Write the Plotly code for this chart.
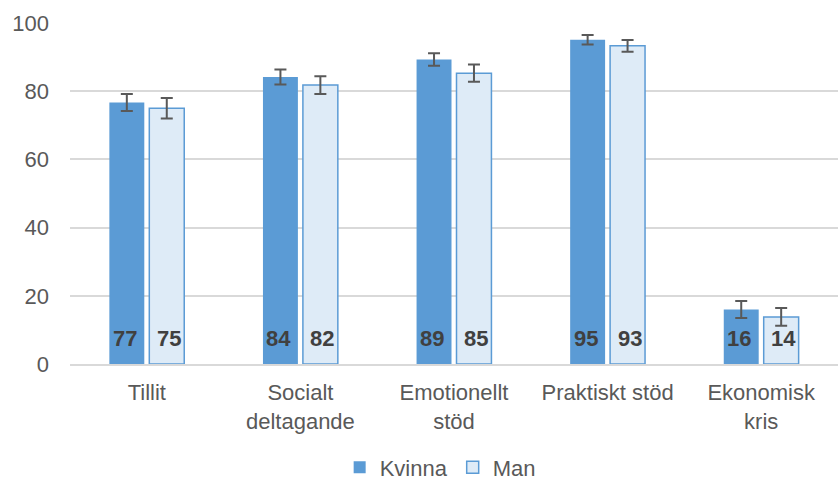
import plotly.graph_objects as go

categories = ["Tillit", "Socialt<br>deltagande", "Emotionellt<br>stöd", "Praktiskt stöd", "Ekonomisk<br>kris"]
kvinna = [76.7, 84.2, 89.3, 95.1, 16.0]
man = [75.0, 81.8, 85.3, 93.3, 13.8]
kvinna_err = [2.5, 2.2, 1.8, 1.4, 2.5]
man_err = [3.0, 2.6, 2.5, 1.7, 2.6]
yticks = [0, 20, 40, 60, 80, 100]

FONT = "Liberation Sans, Arial"

fig = go.Figure()
fig.add_trace(go.Bar(
    name="Kvinna", x=categories, y=kvinna,
    marker=dict(color="#5b9bd5", line=dict(color="#5b9bd5", width=0)),
    error_y=dict(type="data", array=kvinna_err, color="#595959", thickness=2, width=6),
))
fig.add_trace(go.Bar(
    name="Man", x=categories, y=man,
    marker=dict(color="#deebf7", line=dict(color="#5b9bd5", width=1.5)),
    error_y=dict(type="data", array=man_err, color="#595959", thickness=2, width=6),
))

# value labels near the bottom of each bar
for vals, shift in ((kvinna, -22), (man, 22)):
    for cat, v in zip(categories, vals):
        fig.add_annotation(x=cat, y=0, yanchor="bottom", yshift=11, xshift=shift,
                           text=f"<b>{v:.0f}</b>", showarrow=False,
                           font=dict(family=FONT, size=22, color="#404040"))

fig.update_layout(
    width=840, height=480,
    margin=dict(l=70, r=2, t=23, b=116),
    paper_bgcolor="white", plot_bgcolor="white",
    barmode="group", bargap=0.48, bargroupgap=0.125,
    font=dict(family=FONT, size=22, color="#595959"),
    legend=dict(orientation="h", xref="container", x=0.524, xanchor="center",
                yref="container", y=0.026, yanchor="middle",
                font=dict(size=22, color="#595959"), itemwidth=30, traceorder="normal",
                tracegroupgap=0),
    showlegend=True,
)
fig.update_yaxes(range=[0, 100], tickvals=yticks, showgrid=True, gridcolor="#d9d9d9", gridwidth=1.5,
                 zeroline=False, showline=False, ticks="", tickfont=dict(size=22, color="#595959"),
                 ticklabelstandoff=20, automargin=False)
fig.update_xaxes(showline=True, linecolor="#d9d9d9", linewidth=1.5, ticks="",
                 tickfont=dict(size=22, color="#595959"), ticklabelstandoff=8, automargin=False)

fig.write_html("out.html", post_script="document.body.style.margin='0';",
               config={"displayModeBar": False})
